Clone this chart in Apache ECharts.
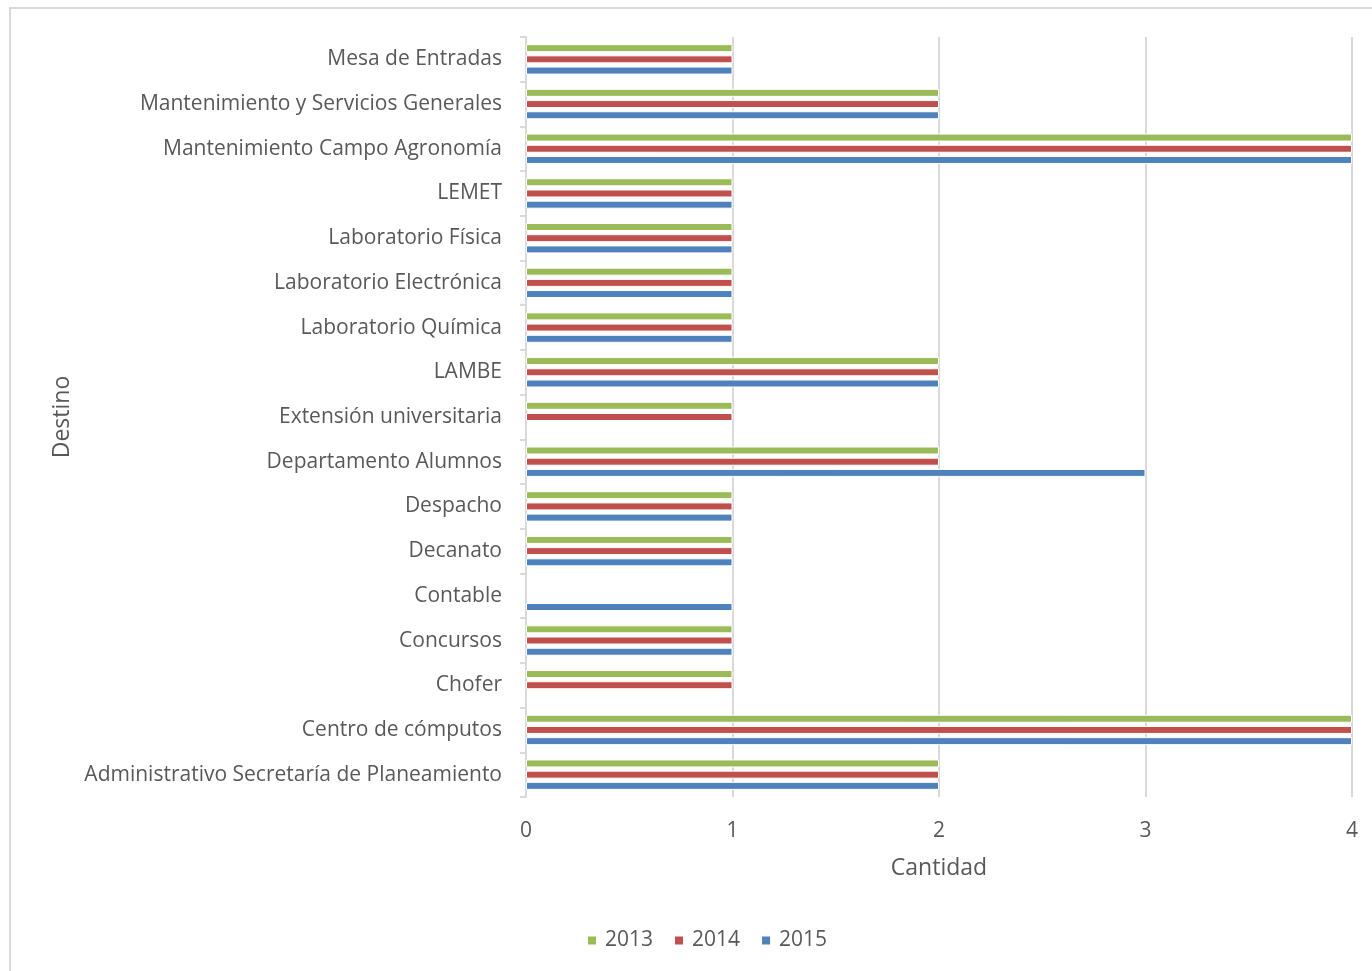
<!DOCTYPE html>
<html>
<head>
<meta charset="utf-8">
<script src="https://cdn.jsdelivr.net/npm/echarts@6/dist/echarts.min.js"></script>
<style>
html,body{margin:0;padding:0;background:#fff;}
#chart{width:1372px;height:971px;}
</style>
</head>
<body>
<div id="chart"></div>
<script>
const categories = [
  "Administrativo Secretaría de Planeamiento",
  "Centro de cómputos",
  "Chofer",
  "Concursos",
  "Contable",
  "Decanato",
  "Despacho",
  "Departamento Alumnos",
  "Extensión universitaria",
  "LAMBE",
  "Laboratorio Química",
  "Laboratorio Electrónica",
  "Laboratorio Física",
  "LEMET",
  "Mantenimiento Campo Agronomía",
  "Mantenimiento y Servicios Generales",
  "Mesa de Entradas"
];
const values2013 = [2, 4, 1, 1, null, 1, 1, 2, 1, 2, 1, 1, 1, 1, 4, 2, 1];
const values2014 = [2, 4, 1, 1, null, 1, 1, 2, 1, 2, 1, 1, 1, 1, 4, 2, 1];
const values2015 = [2, 4, null, 1, 1, 1, 1, 3, null, 2, 1, 1, 1, 1, 4, 2, 1];
const seriesNames = ["2013", "2014", "2015"];
const xTicks = [0, 1, 2, 3, 4];

const FONT = "Open Sans";
const TXT = "#595959";
const colors = ["#9BBB59", "#C0504D", "#4F81BD"];
const data = [values2013, values2014, values2015];

const chart = echarts.init(document.getElementById('chart'), null, {renderer: 'canvas'});
chart.setOption({
  animation: false,
  backgroundColor: '#fff',
  textStyle: {fontFamily: FONT},
  graphic: [{
    type: 'rect', silent: true, z: -10,
    shape: {x: 10, y: 8, width: 1400, height: 1000},
    style: {fill: 'none', stroke: '#d9d9d9', lineWidth: 2}
  }],
  grid: {left: 526, right: 20, top: 37, bottom: 174, containLabel: false},
  legend: {
    data: seriesNames,
    left: 581,
    top: 925,
    itemWidth: 10, itemHeight: 10, itemGap: 20,
    icon: 'rect',
    textStyle: {fontSize: 21, color: TXT, fontFamily: FONT, padding: [0, 0, 0, 3]}
  },
  xAxis: {
    type: 'value', min: xTicks[0], max: xTicks[xTicks.length - 1], interval: 1,
    name: 'Cantidad', nameLocation: 'middle', nameGap: 60,
    nameTextStyle: {fontSize: 23, color: TXT, fontFamily: FONT},
    axisLine: {show: false}, axisTick: {show: false},
    axisLabel: {fontSize: 21, color: TXT, margin: 24, fontFamily: FONT},
    splitLine: {show: true, lineStyle: {color: '#d9d9d9', width: 2}}
  },
  yAxis: {
    type: 'category', data: categories,
    name: 'Destino', nameLocation: 'middle', nameGap: 450,
    nameTextStyle: {fontSize: 23, color: TXT, fontFamily: FONT},
    axisLine: {show: true, lineStyle: {color: '#d9d9d9', width: 2}},
    axisTick: {show: true, length: 6, lineStyle: {color: '#d9d9d9', width: 2}},
    axisLabel: {fontSize: 21, color: TXT, margin: 24, fontFamily: FONT, padding: [3, 0, 0, 0]},
    splitLine: {show: false}
  },
  series: seriesNames.map((n, i) => ({
    name: n, type: 'bar', data: data[i],
    barWidth: 8, barGap: '40%',
    itemStyle: {color: colors[i], borderColor: '#fff', borderWidth: 1}
  }))
});
</script>
</body>
</html>
